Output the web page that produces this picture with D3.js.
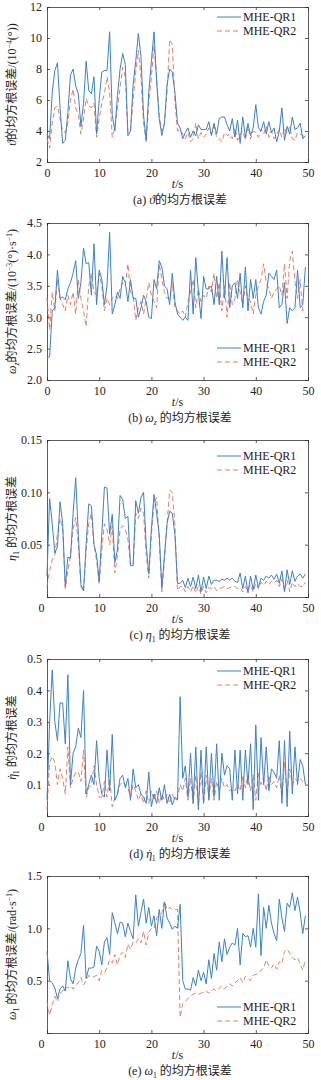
<!DOCTYPE html>
<html>
<head>
<meta charset="utf-8">
<script src="https://cdn.jsdelivr.net/npm/d3@7"></script>
<style>
  body { margin: 0; background: #fff; }
  text { font-family: "Liberation Serif", "Noto Sans CJK SC", serif; fill: #222; }
</style>
</head>
<body>
<svg id="chart" width="321" height="1080"></svg>
<script>
// sampling instants of the simulation (s)
const times = d3.range(0, 50, 0.5)
const xTicks = [0, 10, 20, 30, 40, 50]
const seriesNames = ["MHE-QR1", "MHE-QR2"]

// (a) pitch angle RMS error, 10^-4 deg
const thetaQR1 = [3.8,3.5,6.5,7.9,8.4,5.5,3.2,3.4,5.2,7.6,8.0,6.9,6.4,4.3,5.8,8.5,6.6,6.4,7.5,3.8,
  6.0,7.8,7.9,7.9,10.4,5.0,4.0,6.3,8.0,9.0,8.3,3.7,4.0,7.0,8.5,10.3,8.8,5.0,3.4,6.5,
  8.5,10.4,7.2,4.8,3.7,4.5,7.0,8.0,7.8,6.5,4.5,4.2,3.5,3.9,4.2,3.6,4.0,3.7,4.4,4.1,
  4.1,4.1,4.6,3.7,4.5,3.8,4.8,4.9,4.9,4.4,4.0,4.8,3.6,4.7,3.2,4.9,3.6,4.5,3.7,4.2,
  5.7,4.2,4.0,4.6,3.8,4.6,3.9,4.2,3.3,4.0,5.5,3.4,4.3,3.8,4.9,4.1,4.2,4.5,3.5,3.7]
const thetaQR2 = [3.5,2.9,4.5,5.5,5.6,4.8,4.0,3.9,4.5,6.0,6.7,5.5,5.0,3.8,4.8,6.1,5.6,5.5,5.8,3.6,
  4.8,5.8,6.4,7.5,6.5,3.6,4.2,5.5,6.8,8.1,7.5,3.9,4.0,6.0,7.8,9.2,7.5,4.5,3.3,5.8,
  7.5,9.5,7.5,5.0,4.0,4.5,6.5,9.9,9.6,6.0,4.0,4.1,3.8,3.5,3.9,3.3,3.5,4.5,3.5,3.9,
  3.6,3.8,4.2,3.8,4.3,3.6,3.5,3.3,3.9,3.7,3.8,3.5,4.2,3.4,3.8,4.0,3.4,4.3,3.5,4.0,
  3.9,3.6,4.1,3.8,4.3,3.6,4.0,3.5,3.8,4.1,3.6,4.2,3.8,4.3,3.5,3.4,3.9,3.8,3.7,3.6]

// (b) pitch rate RMS error, 10^-3 deg/s
const omegaZQR1 = [2.35,2.37,3.1,3.15,3.75,3.3,3.32,3.28,3.45,3.55,3.7,3.9,3.3,3.55,4.1,3.85,3.87,3.35,4.17,3.2,
  3.75,3.6,3.2,3.5,4.35,3.05,3.2,3.4,3.3,3.65,3.55,3.25,3.6,3.3,3.3,3.0,3.15,3.35,3.25,3.0,
  2.98,3.6,3.45,3.9,3.8,3.5,3.45,3.2,3.7,3.25,3.05,3.0,2.95,3.0,2.95,3.75,3.05,3.95,3.4,2.98,
  3.65,3.45,3.45,3.5,3.2,3.65,3.2,4.05,3.3,3.95,3.15,3.5,3.55,3.3,3.7,3.15,3.8,3.1,3.6,3.3,
  3.6,3.15,3.05,3.25,3.35,3.7,3.65,3.6,3.75,3.15,3.2,3.55,2.9,3.15,3.1,3.15,3.75,3.15,3.2,3.8]
const omegaZQR2 = [3.3,2.8,3.4,3.1,3.6,3.3,3.2,3.1,3.35,3.2,3.4,3.05,3.6,3.3,3.1,2.85,3.5,3.7,3.4,3.35,
  3.7,3.5,3.1,3.3,3.2,3.3,3.35,3.3,3.45,3.55,3.5,3.85,3.4,3.35,2.95,3.15,3.25,3.05,3.3,3.55,
  3.35,3.25,3.15,3.85,3.6,3.4,3.3,3.3,3.55,3.15,3.1,3.05,3.1,3.0,3.25,3.4,3.6,3.15,3.45,3.25,
  3.35,3.3,3.5,3.4,3.7,3.3,3.55,3.1,3.5,3.0,3.55,3.2,3.3,3.6,3.4,3.2,3.5,3.3,3.25,3.05,
  3.35,3.5,3.6,3.85,3.55,3.45,3.3,3.4,3.45,3.5,3.35,3.85,3.3,3.9,4.05,3.55,3.3,3.6,3.1,3.15]

// (c) first elastic mode RMS error
const etaQR1 = [0.02,0.094,0.07,0.042,0.048,0.091,0.07,0.01,0.038,0.037,0.08,0.114,0.06,0.012,0.006,0.05,0.089,0.087,0.05,0.04,
  0.015,0.06,0.105,0.104,0.06,0.079,0.033,0.045,0.097,0.093,0.075,0.077,0.03,0.03,0.092,0.08,0.095,0.1,0.05,0.022,
  0.065,0.098,0.08,0.06,0.008,0.04,0.07,0.082,0.08,0.06,0.013,0.013,0.016,0.009,0.018,0.01,0.019,0.008,0.021,0.005,
  0.019,0.008,0.02,0.012,0.016,0.016,0.015,0.017,0.016,0.018,0.016,0.018,0.015,0.014,0.023,0.008,0.02,0.004,0.02,0.007,
  0.021,0.009,0.018,0.016,0.02,0.018,0.021,0.017,0.022,0.013,0.025,0.005,0.026,0.012,0.025,0.015,0.02,0.022,0.018,0.022]
const etaQR2 = [0.01,0.025,0.035,0.04,0.06,0.075,0.065,0.008,0.025,0.04,0.065,0.076,0.05,0.01,0.005,0.045,0.07,0.08,0.05,0.035,
  0.012,0.045,0.07,0.065,0.05,0.068,0.023,0.04,0.065,0.068,0.065,0.055,0.03,0.03,0.08,0.075,0.085,0.08,0.04,0.018,
  0.06,0.09,0.095,0.055,0.005,0.035,0.07,0.102,0.1,0.07,0.006,0.01,0.01,0.005,0.01,0.005,0.011,0.004,0.01,0.003,
  0.01,0.004,0.009,0.008,0.01,0.006,0.008,0.009,0.01,0.008,0.009,0.01,0.01,0.008,0.009,0.005,0.01,0.006,0.012,0.005,
  0.013,0.008,0.014,0.011,0.015,0.012,0.015,0.013,0.016,0.01,0.017,0.006,0.016,0.005,0.014,0.01,0.013,0.01,0.01,0.014]

// (d) first elastic mode rate RMS error
const etaDotQR1 = [0.05,0.3,0.465,0.3,0.24,0.36,0.36,0.23,0.45,0.1,0.2,0.22,0.28,0.25,0.4,0.07,0.1,0.13,0.1,0.24,
  0.12,0.07,0.06,0.21,0.08,0.26,0.05,0.07,0.12,0.13,0.09,0.12,0.05,0.15,0.09,0.1,0.07,0.06,0.04,0.14,
  0.03,0.07,0.04,0.09,0.05,0.1,0.04,0.07,0.035,0.06,0.05,0.38,0.12,0.16,0.06,0.2,0.04,0.22,0.02,0.21,
  0.04,0.22,0.05,0.2,0.06,0.23,0.05,0.2,0.13,0.16,0.15,0.05,0.21,0.07,0.21,0.05,0.21,0.1,0.23,0.02,
  0.29,0.05,0.25,0.1,0.22,0.08,0.15,0.14,0.12,0.24,0.04,0.24,0.03,0.27,0.07,0.22,0.1,0.18,0.16,0.1]
const etaDotQR2 = [0.02,0.17,0.19,0.17,0.1,0.15,0.12,0.07,0.22,0.09,0.12,0.14,0.14,0.11,0.21,0.06,0.09,0.1,0.16,0.1,
  0.06,0.06,0.11,0.06,0.12,0.03,0.06,0.07,0.1,0.11,0.1,0.09,0.06,0.1,0.08,0.05,0.07,0.04,0.08,0.04,
  0.08,0.05,0.08,0.04,0.07,0.05,0.07,0.04,0.07,0.05,0.06,0.1,0.08,0.12,0.05,0.12,0.04,0.13,0.03,0.14,
  0.04,0.13,0.06,0.12,0.05,0.11,0.08,0.12,0.09,0.1,0.08,0.09,0.08,0.1,0.08,0.13,0.09,0.13,0.08,0.13,
  0.05,0.14,0.1,0.12,0.08,0.13,0.1,0.11,0.09,0.13,0.06,0.17,0.07,0.15,0.1,0.12,0.11,0.12,0.11,0.1]

// (e) first elastic mode frequency RMS error, rad/s
const omega1QR1 = [0.78,0.5,0.48,0.43,0.33,0.42,0.45,0.4,0.69,0.52,0.47,0.62,0.7,0.76,1.03,0.52,0.62,0.62,0.63,0.83,
  0.78,0.65,0.87,0.91,0.75,1.15,1.05,0.95,1.06,1.05,0.92,1.05,0.97,0.9,1.32,1.02,1.15,1.28,1.05,1.2,
  1.02,1.12,0.93,1.18,1.0,1.25,1.1,1.05,0.99,1.02,1.0,1.23,0.5,0.42,0.42,0.41,0.53,0.45,0.6,0.5,
  0.58,0.47,0.7,0.52,0.76,0.6,0.87,0.68,0.9,0.75,0.82,0.86,0.84,1.0,0.65,0.95,0.92,0.93,0.82,1.0,
  0.82,1.33,0.74,1.2,1.0,1.22,1.05,0.95,0.88,1.28,1.1,0.97,1.24,1.2,1.34,1.17,1.3,1.15,0.95,1.12]
const omega1QR2 = [0.3,0.17,0.27,0.35,0.3,0.38,0.4,0.44,0.43,0.45,0.42,0.46,0.48,0.53,0.46,0.5,0.55,0.53,0.54,0.55,
  0.5,0.6,0.58,0.62,0.7,0.67,0.75,0.65,0.75,0.77,0.72,0.85,0.8,0.87,0.86,0.9,0.86,0.97,0.84,0.96,
  1.0,1.0,1.1,1.12,1.15,1.26,1.18,1.2,1.18,1.18,1.18,0.15,0.28,0.3,0.33,0.35,0.37,0.38,0.37,0.38,
  0.39,0.4,0.38,0.4,0.42,0.4,0.43,0.45,0.42,0.45,0.47,0.45,0.48,0.5,0.53,0.48,0.54,0.52,0.5,0.55,
  0.56,0.57,0.6,0.62,0.7,0.64,0.62,0.66,0.61,0.68,0.66,0.78,0.8,0.76,0.72,0.7,0.72,0.66,0.6,0.7]

const blue = "#3c82c6"
const red = "#e2714f"

// rich text pieces: it = italic, sub / sup = small shifted text, dx = nudge
const etaDot = [{t: "η", it: 1}, {t: "˙", dx: -5.5, it: 1}, {t: "1", sub: 1, dx: 1}]
const panels = [
  { top: 7, domain: [2, 12], ticks: [2, 4, 6, 8, 10, 12], fmt: d3.format("d"),
    s1: thetaQR1, s2: thetaQR2, legendY: 17,
    ylab: [{t: "ϑ", it: 1}, {t: "的均方根误差/(10"}, {t: "−4", sup: 1}, {t: "(°))"}],
    cap: [{t: "(a) "}, {t: "ϑ", it: 1}, {t: "的均方根误差"}] },
  { top: 223, domain: [2, 4.5], ticks: [2, 2.5, 3, 3.5, 4, 4.5], fmt: d3.format(".1f"),
    s1: omegaZQR1, s2: omegaZQR2, legendY: 348,
    ylab: [{t: "ω", it: 1}, {t: "z", it: 1, sub: 1}, {t: "的均方根误差/(10"}, {t: "−3", sup: 1}, {t: "(°)·s"}, {t: "−1", sup: 1}, {t: ")"}],
    cap: [{t: "(b) "}, {t: "ω", it: 1}, {t: "z", it: 1, sub: 1}, {t: " 的均方根误差"}] },
  { top: 440, domain: [0, 0.15], ticks: [0, 0.05, 0.1, 0.15], fmt: d3.format(".2f"),
    s1: etaQR1, s2: etaQR2, legendY: 456, origin: true,
    ylab: [{t: "η", it: 1}, {t: "1", sub: 1}, {t: " 的均方根误差"}],
    cap: [{t: "(c) "}, {t: "η", it: 1}, {t: "1", sub: 1}, {t: " 的均方根误差"}] },
  { top: 659, domain: [0, 0.5], ticks: [0, 0.1, 0.2, 0.3, 0.4, 0.5], fmt: d3.format(".1f"),
    s1: etaDotQR1, s2: etaDotQR2, legendY: 671, origin: true,
    ylab: [...etaDot, {t: " 的均方根误差"}],
    cap: [{t: "(d) "}, ...etaDot, {t: " 的均方根误差"}] },
  { top: 876, domain: [0, 1.5], ticks: [0, 0.5, 1, 1.5], fmt: d3.format(".1f"),
    s1: omega1QR1, s2: omega1QR2, legendY: 1007, origin: true,
    ylab: [{t: "ω", it: 1}, {t: "1", sub: 1}, {t: " 的均方根误差/(rad·s"}, {t: "−1", sup: 1}, {t: ")"}],
    cap: [{t: "(e) "}, {t: "ω", it: 1}, {t: "1", sub: 1}, {t: " 的均方根误差"}] }
]

const left = 47, right = 308
const svg = d3.select("#chart")

function rich(textSel, parts, size) {
  let shift = 0
  parts.forEach(p => {
    const target = p.sub ? 3 : p.sup ? -4 : 0
    const ts = textSel.append("tspan").text(p.t)
      .attr("dy", target - shift)
      .attr("font-size", (p.sub || p.sup) ? size * 0.65 : size)
    if (p.dx) ts.attr("dx", p.dx)
    if (p.it) ts.attr("font-style", "italic")
    shift = target
  })
}

var x = d3.scaleLinear().domain([0, 50]).range([left, right])

panels.forEach((p, idx) => {
  var plotH = idx === 0 ? 155 : 157
  var bottom = p.top + plotH
  var y = d3.scaleLinear().domain(p.domain).range([bottom, p.top])
  var g = svg.append("g")

  // axes, ticks inward
  var xAxis = d3.axisBottom(x).tickValues(xTicks).tickSize(-3).tickPadding(6).tickFormat(d3.format("d"))
  var gx = g.append("g").attr("transform", `translate(0,${bottom})`).call(xAxis)
  var yAxis = d3.axisLeft(y).tickValues(p.ticks).tickSize(-3).tickPadding(5).tickFormat(p.fmt)
  var gy = g.append("g").attr("transform", `translate(${left},0)`).call(yAxis)
  g.append("g").attr("transform", `translate(0,${p.top})`)
    .call(d3.axisTop(x).tickValues(xTicks).tickSize(-3).tickFormat(""))
  g.append("g").attr("transform", `translate(${right},0)`)
    .call(d3.axisRight(y).tickValues(p.ticks).tickSize(-3).tickFormat(""))
  g.selectAll(".domain").attr("stroke", "#333").attr("stroke-width", 0.8)
  g.selectAll(".tick line").attr("stroke", "#333").attr("stroke-width", 0.8)
  g.selectAll(".tick text").attr("font-size", 12).attr("fill", "#333")
    .attr("font-family", "Liberation Serif")
  if (p.origin) {
    // shared origin label: drop y "0", nudge x "0" left
    gy.selectAll(".tick").filter(d => d === 0).select("text").remove()
    gx.selectAll(".tick").filter(d => d === 0).select("text").attr("dx", -6)
  }

  // lines
  var line = s => d3.line().x((d, i) => x(times[i])).y(d => y(d))(s)
  g.append("path").attr("d", line(p.s2)).attr("fill", "none")
    .attr("stroke", red).attr("stroke-width", 0.9).attr("stroke-dasharray", "5,3")
  g.append("path").attr("d", line(p.s1)).attr("fill", "none")
    .attr("stroke", blue).attr("stroke-width", 1)

  // legend
  seriesNames.forEach((name, k) => {
    var ly = p.legendY + k * 14
    g.append("line").attr("x1", 217).attr("x2", 241).attr("y1", ly).attr("y2", ly)
      .attr("stroke", k ? red : blue).attr("stroke-width", k ? 0.9 : 1)
      .attr("stroke-dasharray", k ? "5,3" : null)
    g.append("text").attr("x", 243).attr("y", ly + 4).attr("font-size", 12).text(name)
  })

  // y label
  var yl = g.append("text")
    .attr("transform", `translate(16,${p.top + plotH / 2}) rotate(-90)`)
    .attr("text-anchor", "middle").attr("font-size", 12)
  rich(yl, p.ylab, 12)

  // x label
  var xl = g.append("text").attr("x", (left + right) / 2).attr("y", bottom + 26)
    .attr("text-anchor", "middle").attr("font-size", 12)
  rich(xl, [{t: "t", it: 1}, {t: "/s"}], 12)

  // caption
  var cp = g.append("text").attr("x", 180).attr("y", bottom + 42)
    .attr("text-anchor", "middle").attr("font-size", 12)
  rich(cp, p.cap, 12)
})
</script>
</body>
</html>
